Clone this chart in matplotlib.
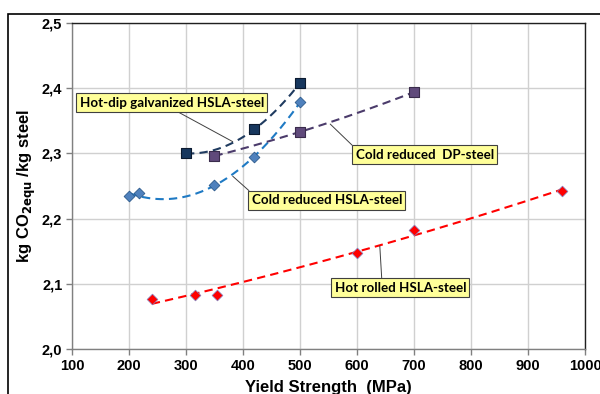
import numpy as np
import matplotlib
matplotlib.use("Agg")
import matplotlib.pyplot as plt
from matplotlib.patches import Rectangle
from matplotlib.ticker import FuncFormatter

# Data
hdg_x = [300, 420, 500]
hdg_y = [2.300, 2.337, 2.408]
crh_x = [200, 218, 350, 420, 500]
crh_y = [2.235, 2.239, 2.251, 2.294, 2.379]
dp_x = [350, 500, 700]
dp_y = [2.296, 2.333, 2.394]
hr_x = [240, 315, 355, 600, 700, 960]
hr_y = [2.077, 2.083, 2.083, 2.147, 2.183, 2.242]

x_ticks = [100, 200, 300, 400, 500, 600, 700, 800, 900, 1000]
y_ticks = [2.0, 2.1, 2.2, 2.3, 2.4, 2.5]

fig = plt.figure(figsize=(6.0, 3.94), dpi=100)
ax = fig.add_axes([72/600, 1-349/394, (585-72)/600, (349-23)/394])

# outer chart frame
fig.patches.append(Rectangle((8/600, -0.2), 1.2, 1-14/394+0.2, transform=fig.transFigure,
                             fill=False, edgecolor='black', linewidth=1.2))

def trend(xs, ys, deg, color, lw=1.5):
    c = np.polyfit(xs, ys, deg)
    xx = np.linspace(min(xs), max(xs), 200)
    ax.plot(xx, np.polyval(c, xx), linestyle=(0, (4, 2.5)), color=color, lw=lw, zorder=3)

trend(hdg_x, hdg_y, 2, '#1F3B60')
trend(crh_x, crh_y, 2, '#1F7AC4')
trend(dp_x, dp_y, 2, '#4B3B6B')
trend(hr_x, hr_y, 2, '#FF0000')

ax.scatter(hdg_x, hdg_y, marker='s', s=45, color='#17375E', edgecolors='#0B1A30', linewidths=0.8, zorder=5)
ax.scatter(crh_x, crh_y, marker='D', s=30, color='#4F81BD', edgecolors='#2C5A8C', linewidths=0.6, zorder=5)
ax.scatter(dp_x, dp_y, marker='s', s=45, color='#604A7B', edgecolors='#3A2C4C', linewidths=0.8, zorder=5)
ax.scatter(hr_x, hr_y, marker='D', s=30, color='#FF0000', edgecolors='#8080C0', linewidths=0.5, zorder=5)

ax.set_xlim(100, 1000)
ax.set_ylim(2.0, 2.5)
ax.set_xticks(x_ticks)
ax.set_yticks(y_ticks)
ax.yaxis.set_major_formatter(FuncFormatter(lambda v, p: f"{v:.1f}".replace('.', ',')))
ax.grid(True, color='#D0D0D0', linewidth=1.0, zorder=0)
ax.set_axisbelow(True)

for lab in ax.get_xticklabels() + ax.get_yticklabels():
    lab.set_fontfamily('Liberation Sans')
    lab.set_fontweight('bold')
    lab.set_fontsize(10.5)
ax.tick_params(axis='both', direction='out', length=4, color='#808080', width=1, pad=3)
for s in ['left', 'bottom']:
    ax.spines[s].set_color('#808080')
for s in ['top', 'right']:
    ax.spines[s].set_color('#202020')
for s in ax.spines.values():
    s.set_linewidth(1.0)

ax.set_ylabel(r"kg CO$_{\mathbf{2equ}}$ /kg steel", fontfamily='Liberation Sans', fontweight='bold', fontsize=12, labelpad=3)
ax.set_xlabel("Yield Strength  (MPa)", fontfamily='Liberation Sans', fontweight='bold', fontsize=12, labelpad=5)

box = dict(boxstyle='square,pad=0.25', facecolor='#FFFF99', edgecolor='#404040', linewidth=0.8)
def label(text, xytext, xy, relpos):
    ax.annotate(text, xy=xy, xytext=xytext, ha='center', va='center',
                fontfamily='Lato', fontweight='bold', fontsize=9.6, bbox=box, zorder=6,
                arrowprops=dict(arrowstyle='-', color='#404040', lw=0.7, relpos=relpos,
                                shrinkA=0, shrinkB=0))

label("Hot-dip galvanized HSLA-steel", (275, 2.378), (382, 2.318), (0.5, 0.0))
label("Cold reduced  DP-steel", (719, 2.298), (553, 2.345), (0.0, 1.0))
label("Cold reduced HSLA-steel", (547, 2.228), (382, 2.265), (0.01, 1.0))
label("Hot rolled HSLA-steel", (676, 2.094), (640, 2.158), (0.36, 1.0))

fig.savefig("out.png", dpi=100)
